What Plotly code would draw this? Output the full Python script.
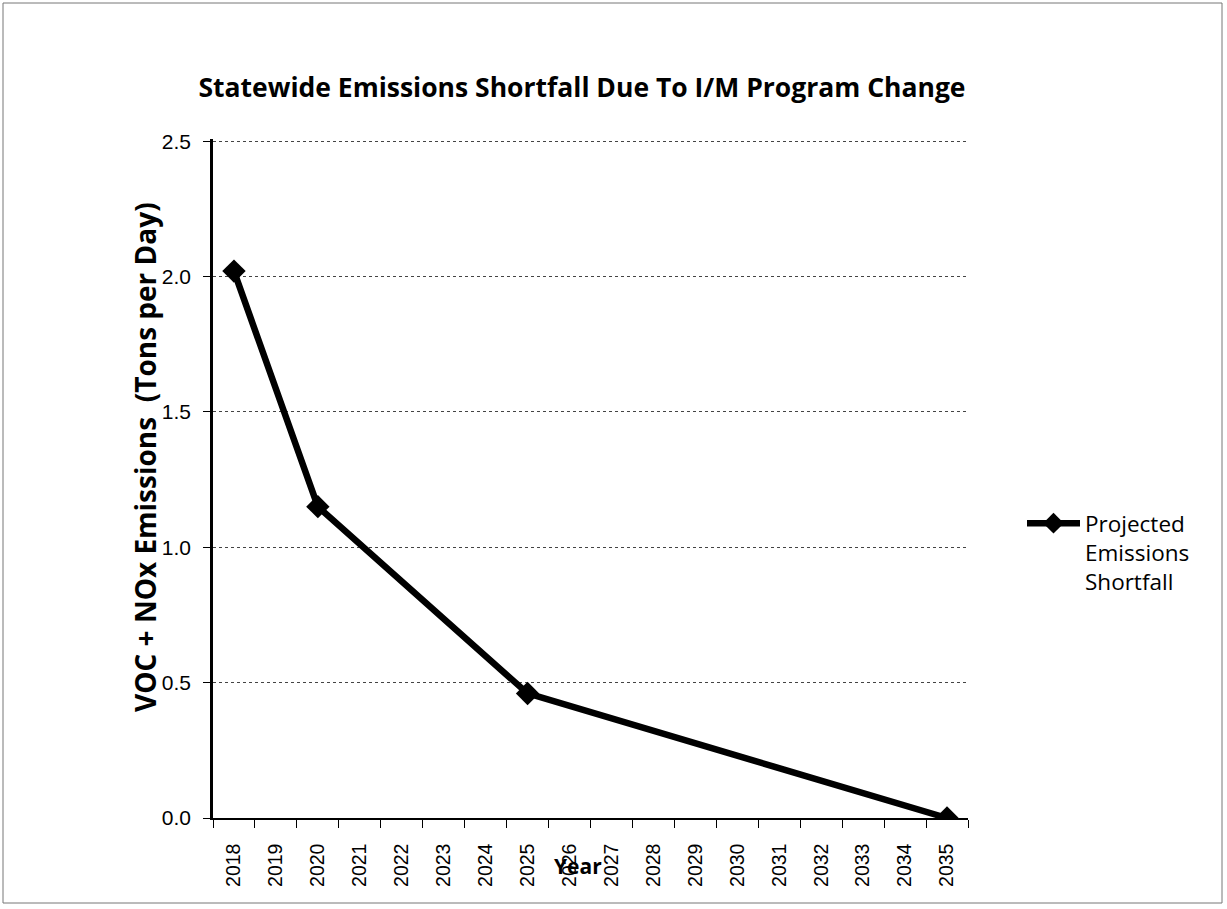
import plotly.graph_objects as go

years = [str(y) for y in range(2018, 2036)]
point_years = ["2018", "2020", "2025", "2035"]
shortfall = [2.02, 1.15, 0.46, 0.0]
y_ticks = [0.0, 0.5, 1.0, 1.5, 2.0, 2.5]
y_tick_labels = ["0.0", "0.5", "1.0", "1.5", "2.0", "2.5"]

title_font = "'Open Sans', Lato, sans-serif"
tick_font = "'Liberation Sans', Arial, sans-serif"

W, H = 1227, 909
L, T = 213, 139
R = W - 968
B = H - 818
pw, ph = W - L - R, H - T - B


def px_x(x):
    return (x - L) / pw


def px_y(y):
    return (H - B - y) / ph


fig = go.Figure()
fig.add_trace(go.Scatter(
    x=point_years, y=shortfall, mode="lines+markers",
    name="Projected<br>Emissions<br>Shortfall",
    line=dict(color="black", width=6.5),
    marker=dict(symbol="diamond", size=18, color="black"),
))

fig.update_layout(
    width=W, height=H,
    margin=dict(l=L, r=R, t=T, b=B),
    paper_bgcolor="white", plot_bgcolor="white",
    title=dict(text="<b>Statewide Emissions Shortfall Due To I/M Program Change</b>",
               x=582 / W, xanchor="center", y=1 - 88 / H, yanchor="middle",
               font=dict(family=title_font, size=26.5, color="black")),
    font=dict(family=title_font, color="black"),
    showlegend=True,
    legend=dict(x=px_x(1022), xanchor="left", y=px_y(502), yanchor="top",
                valign="top",
                font=dict(size=22.5, color="black"), bgcolor="rgba(0,0,0,0)",
                itemwidth=53),
    xaxis=dict(type="category", categoryorder="array", categoryarray=years,
               range=[-0.5, len(years) - 0.5],
               tickmode="array", tickvals=years, ticktext=years,
               tickson="boundaries", ticks="outside", ticklen=8, tickcolor="black",
               ticklabelstandoff=16,
               tickangle=-90, tickfont=dict(family=tick_font, size=19.5, color="black"),
               showline=True, linecolor="black", linewidth=1.5, showgrid=False),
    yaxis=dict(range=[0, 2.508], tickmode="array", tickvals=y_ticks, ticktext=y_tick_labels,
               ticks="outside", ticklen=7, tickcolor="black",
               ticklabelstandoff=8,
               tickfont=dict(family=tick_font, size=21, color="black"),
               showline=True, linecolor="black", linewidth=2.5,
               showgrid=True, gridcolor="#444444", gridwidth=1.2, griddash="dot",
               zeroline=False),
)

fig.add_annotation(text="<b>VOC + NOx Emissions  (Tons per Day)</b>", textangle=-90,
                   xref="paper", yref="paper", x=px_x(145), y=px_y(457),
                   xanchor="center", yanchor="middle", showarrow=False,
                   font=dict(family=title_font, size=28, color="black"))
fig.add_annotation(text="<b>Year</b>",
                   xref="paper", yref="paper", x=px_x(578), y=px_y(866),
                   xanchor="center", yanchor="middle", showarrow=False,
                   font=dict(family=title_font, size=21, color="black"))

fig.add_shape(type="rect", xref="paper", yref="paper",
              x0=px_x(3), x1=px_x(1222), y0=px_y(903), y1=px_y(3),
              line=dict(color="#777777", width=1), layer="below")

fig.write_html("out.html", config={"displayModeBar": False},
               post_script="document.body.style.margin='0';")
